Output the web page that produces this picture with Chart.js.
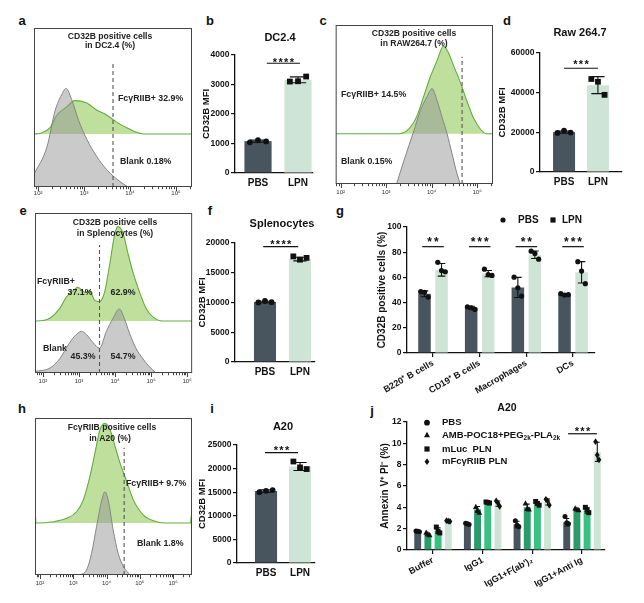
<!DOCTYPE html>
<html><head><meta charset="utf-8">
<script src="https://cdn.jsdelivr.net/npm/chart.js@4.4.1/dist/chart.umd.min.js"></script>
<style>
html,body{margin:0;padding:0;background:#fff;}
body{position:relative;width:644px;height:603px;overflow:hidden;font-family:'Liberation Sans',Arial,sans-serif;}
.pl{position:absolute;font-weight:bold;font-size:13px;color:#111;transform:translate(-50%,-50%);line-height:1;}
canvas{position:absolute;}
</style></head><body>
<div class="pl" style="left:22px;top:20px">a</div>
<div class="pl" style="left:210px;top:20px">b</div>
<div class="pl" style="left:323px;top:20px">c</div>
<div class="pl" style="left:507px;top:20px">d</div>
<div class="pl" style="left:23px;top:210px">e</div>
<div class="pl" style="left:210px;top:210px">f</div>
<div class="pl" style="left:340px;top:210px">g</div>
<div class="pl" style="left:22px;top:408px">h</div>
<div class="pl" style="left:212px;top:408px">i</div>
<div class="pl" style="left:372px;top:410px">j</div>
<script>
// ================= DATA =================
const histTickLabels = ['10²', '10³', '10⁴', '10⁵', '10⁶'];
const histDecades = [2, 3, 4, 5, 6];

// a: DC2.4 histogram (x = log10 intensity, h = fraction of panel height)
const histA_greyX  = [1.91, 2.19, 2.37, 2.51, 2.61, 2.73, 2.88, 3.06, 3.28, 3.49, 3.67, 3.85, 3.96];
const histA_greyH  = [0.08, 0.25, 0.48, 0.58, 0.62, 0.55, 0.42, 0.30, 0.19, 0.11, 0.06, 0.02, 0];
const histA_greenX = [1.91, 2.05, 2.26, 2.41, 2.62, 2.80, 3.06, 3.28, 3.49, 3.71, 3.93, 4.15, 4.29, 5.35];
const histA_greenH = [0, 0.005, 0.04, 0.12, 0.17, 0.21, 0.195, 0.15, 0.12, 0.075, 0.04, 0.01, 0, 0];
const histA_gate = 3.63;

// c: RAW264.7 histogram
const histC_greyX  = [3.23, 3.39, 3.61, 3.75, 3.90, 4.01, 4.12, 4.23, 4.34, 4.45, 4.56, 4.63];
const histC_greyH  = [0, 0.146, 0.335, 0.46, 0.55, 0.60, 0.525, 0.42, 0.316, 0.19, 0.063, 0];
const histC_greenX = [1.89, 3.28, 3.50, 3.68, 3.82, 3.97, 4.12, 4.26, 4.37, 4.48, 4.63, 4.77, 4.92, 5.07, 5.21, 5.35];
const histC_greenH = [0, 0, 0.03, 0.114, 0.23, 0.357, 0.46, 0.55, 0.51, 0.43, 0.325, 0.21, 0.10, 0.03, 0, 0];
const histC_gate = 4.67;

// e: Splenocytes histogram
const histE_greyX  = [1.78, 2.19, 2.47, 2.70, 2.88, 3.07, 3.21, 3.39, 3.57, 3.76, 3.94, 4.12, 4.26, 4.40, 4.58, 4.77, 4.95, 5.14];
const histE_greyH  = [0.01, 0.03, 0.09, 0.175, 0.23, 0.26, 0.24, 0.19, 0.155, 0.26, 0.34, 0.40, 0.34, 0.25, 0.155, 0.09, 0.04, 0];
const histE_greenX = [1.78, 1.83, 2.19, 2.47, 2.65, 2.84, 2.97, 3.16, 3.30, 3.43, 3.57, 3.71, 3.85, 3.99, 4.08, 4.22, 4.35, 4.49, 4.68, 4.86, 5.04, 5.32, 6.14];
const histE_greenH = [0, 0, 0.017, 0.08, 0.15, 0.19, 0.21, 0.18, 0.19, 0.13, 0.12, 0.18, 0.35, 0.54, 0.59, 0.55, 0.43, 0.31, 0.18, 0.08, 0.027, 0, 0];
const histE_gate = 3.57;

// h: A20 histogram
const histH_greyX  = [3.20, 3.40, 3.55, 3.70, 3.86, 3.95, 4.05, 4.20, 4.35, 4.51, 4.71];
const histH_greyH  = [0, 0.032, 0.138, 0.308, 0.478, 0.53, 0.478, 0.287, 0.138, 0.053, 0];
const histH_greenX = [1.85, 1.86, 1.88, 2.40, 2.80, 3.10, 3.30, 3.50, 3.65, 3.80, 3.95, 4.11, 4.26, 4.41, 4.61, 4.81, 5.11, 5.51, 5.81, 6.53, 6.55, 6.57];
const histH_greenH = [0, 0.05, 0, 0.008, 0.03, 0.072, 0.146, 0.295, 0.444, 0.592, 0.635, 0.592, 0.486, 0.38, 0.263, 0.146, 0.051, 0.008, 0, 0, 0.05, 0];
const histH_gate = 4.53;

// two-group MFI bar panels
const mfiCats = ['PBS', 'LPN'];
const b_means = [1080, 3160];   const b_sd = [35, 100];   const b_pts = [[1040, 1110, 1070], [3100, 3110, 3270]];
const b_yTicks = [0, 1000, 2000, 3000, 4000];
const d_means = [20100, 43800]; const d_sd = [500, 4300]; const d_pts = [[19700, 20800, 19900], [46900, 45500, 38900]];
const d_yTicks = [0, 20000, 40000, 60000];
const f_means = [10080, 17300]; const f_sd = [130, 300];  const f_pts = [[10000, 10250, 10050], [17750, 17200, 17500]];
const f_yTicks = [0, 5000, 10000, 15000, 20000];
const i_means = [15250, 20450]; const i_sd = [250, 850];  const i_pts = [[15000, 15300, 15450], [21500, 20250, 19900]];
const i_yTicks = [0, 5000, 10000, 15000, 20000, 25000];

// g: CD32B positive cells (%)
const gCats = ['B220⁺ B cells', 'CD19⁺ B cells', 'Macrophages', 'DCs'];
const gPBS = [47, 36, 52, 46.5];   const gPBS_sd = [2.3, 1.1, 8, 0.6];
const gPBS_pts = [[48.7, 48.2, 44.4], [36.7, 35.9, 34.6], [60.2, 51.8, 45.2], [47.1, 46, 46.3]];
const gLPN = [66, 63, 78, 64];     const gLPN_sd = [5, 2.5, 3, 8.5];
const gLPN_pts = [[72, 65.4, 64.5], [66.5, 62.2, 61.6], [80.8, 79, 74.5], [72.5, 65, 55]];
const g_yTicks = [0, 20, 40, 60, 80, 100];

// j: Annexin V+ PI- (%)
const jCats = ['Buffer', 'IgG1', "IgG1+F(ab')₂", 'IgG1+Anti Ig'];
const jPBS = [1.75, 2.45, 2.4, 2.6];  const jPBS_sd = [0.05, 0.05, 0.3, 0.35];
const jPBS_pts = [[1.78, 1.75, 1.72], [2.5, 2.45, 2.4], [2.74, 2.33, 2.18], [3.15, 2.55, 2.45]];
const jAMB = [1.45, 3.8, 4.0, 3.8];   const jAMB_sd = [0.1, 0.28, 0.3, 0.08];
const jAMB_pts = [[1.62, 1.5, 1.4], [4.05, 3.74, 3.5], [4.36, 3.9, 3.8], [3.9, 3.8, 3.75]];
const jLuc = [1.8, 4.45, 4.35, 3.7];  const jLuc_sd = [0.28, 0.05, 0.18, 0.25];
const jLuc_pts = [[2.15, 1.75, 1.6], [4.5, 4.45, 4.4], [4.55, 4.36, 4.2], [4.0, 3.75, 3.5]];
const jFc = [2.7, 4.35, 4.5, 9.2];    const jFc_sd = [0.04, 0.25, 0.28, 0.9];
const jFc_pts = [[2.75, 2.7, 2.68], [4.6, 4.4, 4.1], [4.75, 4.6, 4.2], [10.15, 8.9, 8.45]];
const j_yTicks = [0, 2, 4, 6, 8, 10, 12];

// ================= DRAWING =================
const FAM = "'Liberation Sans', Arial, Helvetica, sans-serif";
const DARK = '#48555f', LIGHT = '#cde4d6', G2 = '#2b9b6b', G3 = '#3cbf83';
Chart.defaults.font.family = FAM;
Chart.defaults.color = '#111';

function mkCanvas(b) {
  const c = document.createElement('canvas');
  c.style.left = b[0] + 'px'; c.style.top = b[1] + 'px';
  c.style.width = (b[2] - b[0]) + 'px'; c.style.height = (b[3] - b[1]) + 'px';
  c.width = b[2] - b[0]; c.height = b[3] - b[1];
  document.body.appendChild(c);
  return c;
}
function drawMarker(ctx, type, x, y, r) {
  ctx.beginPath();
  if (type === 'square') ctx.rect(x - r, y - r, 2 * r, 2 * r);
  else if (type === 'triangle') { ctx.moveTo(x, y - r * 1.25); ctx.lineTo(x + r * 1.15, y + r * 0.85); ctx.lineTo(x - r * 1.15, y + r * 0.85); ctx.closePath(); }
  else if (type === 'diamond') { ctx.moveTo(x, y - r * 1.35); ctx.lineTo(x + r * 0.95, y); ctx.lineTo(x, y + r * 1.35); ctx.lineTo(x - r * 0.95, y); ctx.closePath(); }
  else ctx.arc(x, y, r, 0, Math.PI * 2);
  ctx.fill();
}
function drawText(ctx, t, ox, oy) {
  ctx.save();
  ctx.fillStyle = t.color || '#111';
  ctx.textBaseline = 'middle';
  const size = t.size || 9, w = t.weight || 'bold';
  if (t.parts) {
    let x = t.x - ox;
    ctx.textAlign = 'left';
    t.parts.forEach(p => {
      const s = p.sub ? size * 0.68 : size;
      ctx.font = w + ' ' + s + 'px ' + FAM;
      ctx.fillText(p.s, x, t.y - oy + (p.sub ? size * 0.32 : 0));
      x += ctx.measureText(p.s).width;
    });
  } else {
    ctx.font = w + ' ' + size + 'px ' + FAM;
    ctx.textAlign = t.align || 'left';
    ctx.fillText(t.s, t.x - ox, t.y - oy);
  }
  ctx.restore();
}
const deco = {
  id: 'deco',
  afterDatasetsDraw(chart, args, o) {
    const ctx = chart.ctx, xs = chart.scales.x, ys = chart.scales.y;
    chart.data.datasets.forEach((ds, di) => {
      if (!ds.pts) return;
      const meta = chart.getDatasetMeta(di);
      meta.data.forEach((bar, i) => {
        const bw = bar.width, m = ds.data[i].y, sd = ds.sd[i];
        const yT = ys.getPixelForValue(m + sd), yB = ys.getPixelForValue(m - sd), cw = bw * o.cap;
        ctx.save();
        ctx.strokeStyle = '#111'; ctx.lineWidth = 1.1;
        ctx.beginPath();
        ctx.moveTo(bar.x, yT); ctx.lineTo(bar.x, yB);
        ctx.moveTo(bar.x - cw, yT); ctx.lineTo(bar.x + cw, yT);
        ctx.moveTo(bar.x - cw, yB); ctx.lineTo(bar.x + cw, yB);
        ctx.stroke();
        ctx.fillStyle = '#111';
        const mk = Array.isArray(ds.marker) ? ds.marker[i] : ds.marker;
        ds.pts[i].forEach((v, k) => drawMarker(ctx, mk, bar.x + o.jit[k] * bw, ys.getPixelForValue(v), o.ms));
        ctx.restore();
      });
    });
    (o.sig || []).forEach(s => {
      const x1 = xs.getPixelForValue(s.x1), x2 = xs.getPixelForValue(s.x2), y = ys.getPixelForValue(s.y);
      ctx.save();
      ctx.strokeStyle = '#111'; ctx.lineWidth = 1.2;
      ctx.beginPath(); ctx.moveTo(x1, y); ctx.lineTo(x2, y); ctx.stroke();
      const size = s.size || 11;
      ctx.font = 'bold ' + size + 'px ' + FAM; ctx.fillStyle = '#111';
      ctx.textAlign = 'center'; ctx.textBaseline = 'alphabetic';
      const cx = (x1 + x2) / 2, sp = s.sp || 5.6, by = y - s.dy + 0.58 * size;
      for (let k = 0; k < s.n; k++) ctx.fillText('*', cx + (k - (s.n - 1) / 2) * sp, by);
      ctx.restore();
    });
  },
  afterDraw(chart, args, o) {
    const ctx = chart.ctx, ca = chart.chartArea;
    if (o.frame) {
      const xs = chart.scales.x;
      ctx.save();
      ctx.strokeStyle = '#444'; ctx.lineWidth = 1;
      ctx.strokeRect(ca.left + 0.5, ca.top + 0.5, ca.right - ca.left - 1, ca.bottom - ca.top - 1);
      ctx.beginPath();
      for (let n = Math.floor(xs.min); n <= Math.floor(xs.max); n++) {
        for (let k = 1; k <= 9; k++) {
          const v = n + Math.log10(k);
          if (v < xs.min || v > xs.max) continue;
          const px = Math.round(xs.getPixelForValue(v)) + 0.5;
          ctx.moveTo(px, ca.bottom); ctx.lineTo(px, ca.bottom + (k === 1 ? 4 : 2.2));
        }
      }
      ctx.stroke();
      ctx.restore();
    }
    (o.texts || []).forEach(t => drawText(ctx, t, o.ox, o.oy));
    (o.marks || []).forEach(m => { ctx.save(); ctx.fillStyle = '#111'; drawMarker(ctx, m.type, m.x - o.ox, m.y - o.oy, m.r); ctx.restore(); });
  }
};

function histChart(o) {
  const [x0, y0, x1, y1] = o.box, [L, T, R, B] = o.plot;
  const cv = mkCanvas(o.box);
  const decs = histDecades.filter(d => d >= o.xmin && d <= o.xmax);
  return new Chart(cv, {
    type: 'line',
    data: { datasets: [
      { data: [{ x: o.gate, y: 0 }, { x: o.gate, y: o.gateTop }], borderColor: '#555', borderWidth: 1.1, borderDash: [4, 3], pointRadius: 0, fill: false },
      { data: o.greyX.map((x, i) => ({ x: x, y: o.greyH[i] })), borderColor: '#858585', borderWidth: 1, backgroundColor: 'rgba(150,150,150,0.5)', fill: 'origin', pointRadius: 0, cubicInterpolationMode: 'monotone' },
      { data: o.greenX.map((x, i) => ({ x: x, y: o.base + o.greenH[i] })), borderColor: '#62ad3c', borderWidth: 1.1, backgroundColor: 'rgba(150,205,95,0.62)', fill: { value: o.base }, pointRadius: 0, cubicInterpolationMode: 'monotone' }
    ]},
    options: {
      responsive: false, animation: false, events: [],
      layout: { padding: { left: L - x0, top: T - y0, right: x1 - R, bottom: 0 } },
      plugins: { legend: { display: false }, tooltip: { enabled: false }, deco: { frame: true, ox: x0, oy: y0, texts: o.texts } },
      scales: {
        x: { type: 'linear', min: o.xmin, max: o.xmax, grid: { display: false, drawTicks: false }, border: { display: false },
             afterBuildTicks: s => { s.ticks = decs.map(v => ({ value: v })); },
             ticks: { autoSkip: false, maxRotation: 0, minRotation: 0, padding: o.labelPad, font: { size: 6 }, color: '#333',
                      callback: v => histTickLabels[histDecades.indexOf(v)] },
             afterFit: s => { s.height = y1 - B; } },
        y: { display: false, min: 0, max: 1 }
      }
    },
    plugins: [deco]
  });
}

function barChart(o) {
  const [x0, y0, x1, y1] = o.box, [L, T, R, B] = o.plot;
  const cv = mkCanvas(o.box);
  return new Chart(cv, {
    type: 'bar',
    data: { datasets: o.series.map(s => ({
      data: s.means.map((m, i) => ({ x: i + 1, y: m })),
      backgroundColor: s.color, borderWidth: 0,
      barPercentage: o.barPct, categoryPercentage: o.catPct,
      pts: s.pts, sd: s.sd, marker: s.marker })) },
    options: {
      responsive: false, animation: false, events: [],
      layout: { padding: { left: 0, top: T - y0, right: x1 - R, bottom: 0 } },
      plugins: { legend: { display: false }, tooltip: { enabled: false },
                 deco: { ox: x0, oy: y0, texts: o.texts, marks: o.marks, sig: o.sig, jit: o.jit, ms: o.ms, cap: o.cap } },
      scales: {
        x: { type: 'linear', min: o.xmin, max: o.xmax, offset: false,
             grid: { display: true, drawOnChartArea: false, drawTicks: !!o.xTicks, tickLength: 4, color: '#111', lineWidth: 1.2, offset: false },
             border: { display: true, color: '#111', width: 1.3 },
             afterBuildTicks: s => { s.ticks = o.cats.map((c, i) => ({ value: i + 1 })); },
             ticks: { autoSkip: false, maxRotation: o.rot, minRotation: o.rot, padding: o.xPad, font: { size: o.xFont, weight: 'bold' }, color: '#111',
                      callback: v => o.cats[Math.round(v) - 1] },
             afterFit: s => { s.height = y1 - B; } },
        y: { min: 0, max: o.ymax,
             afterBuildTicks: s => { s.ticks = o.yTicks.map(v => ({ value: v })); },
             grid: { drawOnChartArea: false, drawTicks: true, tickLength: 4, color: '#111', lineWidth: 1.2 },
             border: { color: '#111', width: 1.3 },
             ticks: { font: { size: 8.5, weight: 'bold' }, color: '#111', padding: 1.5, callback: v => String(v) },
             title: { display: true, text: o.yTitle, font: { size: o.yTitleSize || 9.5, weight: 'bold' }, color: '#111', padding: 0 },
             afterFit: s => { s.width = L - x0; } }
      }
    },
    plugins: [deco]
  });
}

// ---------- histograms ----------
histChart({ box: [30, 20, 196, 200], plot: [34, 28, 192, 187], xmin: 1.91, xmax: 5.35, labelPad: 2.4,
  greyX: histA_greyX, greyH: histA_greyH, greenX: histA_greenX, greenH: histA_greenH, base: 0.333, gate: histA_gate, gateTop: 0.79,
  texts: [
    { s: 'CD32B positive cells', x: 110, y: 37, size: 8.6, align: 'center', color: '#222' },
    { s: 'in DC2.4 (%)', x: 110, y: 46, size: 8.6, align: 'center', color: '#222' },
    { s: 'FcγRIIB+ 32.9%', x: 118, y: 99, size: 8.8, color: '#222' },
    { s: 'Blank 0.18%', x: 120, y: 162, size: 8.8, color: '#222' }
  ] });
histChart({ box: [331, 17, 497, 196], plot: [335, 25, 493, 184], xmin: 1.89, xmax: 5.35, labelPad: 5.2,
  greyX: histC_greyX, greyH: histC_greyH, greenX: histC_greenX, greenH: histC_greenH, base: 0.316, gate: histC_gate, gateTop: 0.80,
  texts: [
    { s: 'CD32B positive cells', x: 414, y: 34, size: 8.6, align: 'center', color: '#222' },
    { s: 'in RAW264.7 (%)', x: 414, y: 44, size: 8.6, align: 'center', color: '#222' },
    { s: 'FcγRIIB+ 14.5%', x: 341, y: 95, size: 8.8, color: '#222' },
    { s: 'Blank 0.15%', x: 341, y: 162, size: 8.8, color: '#222' }
  ] });
histChart({ box: [31, 205, 197, 388], plot: [35, 213, 193, 373], xmin: 1.78, xmax: 6.14, labelPad: 5.2,
  greyX: histE_greyX, greyH: histE_greyH, greenX: histE_greenX, greenH: histE_greenH, base: 0.325, gate: histE_gate, gateTop: 0.80,
  texts: [
    { s: 'CD32B positive cells', x: 115, y: 223, size: 8.6, align: 'center', color: '#222' },
    { s: 'in Splenocytes (%)', x: 115, y: 234, size: 8.6, align: 'center', color: '#222' },
    { s: 'FcγRIIB+', x: 37, y: 282, size: 8.8, color: '#222' },
    { s: '37.1%', x: 80, y: 293, size: 8.8, align: 'center', color: '#222' },
    { s: '62.9%', x: 123, y: 293, size: 8.8, align: 'center', color: '#222' },
    { s: 'Blank', x: 43, y: 349, size: 8.8, color: '#222' },
    { s: '45.3%', x: 83, y: 357, size: 8.8, align: 'center', color: '#222' },
    { s: '54.7%', x: 123, y: 357, size: 8.8, align: 'center', color: '#222' }
  ] });
histChart({ box: [31, 404, 196, 590], plot: [35, 418, 192, 575], xmin: 1.85, xmax: 6.57, labelPad: 4.4,
  greyX: histH_greyX, greyH: histH_greyH, greenX: histH_greenX, greenH: histH_greenH, base: 0.331, gate: histH_gate, gateTop: 0.81,
  texts: [
    { s: 'FcγRIIB positive cells', x: 112, y: 428, size: 8.6, align: 'center', color: '#222' },
    { s: 'in A20 (%)', x: 110, y: 439, size: 8.6, align: 'center', color: '#222' },
    { s: 'FcγRIIB+ 9.7%', x: 126, y: 484, size: 8.8, color: '#222' },
    { s: 'Blank 1.8%', x: 137, y: 544, size: 8.8, color: '#222' }
  ] });

// ---------- MFI bar charts ----------
const twoMarkers = ['circle', 'square'];
barChart({ box: [201, 28, 318, 196], plot: [235, 55, 313, 173], xmin: 0.425, xmax: 2.375, barPct: 0.68, catPct: 1,
  cats: mfiCats, ymax: 4000, yTicks: b_yTicks, yTitle: 'CD32B MFI', rot: 0, xPad: 4, xFont: 10, jit: [-0.3, 0, 0.3], ms: 2.9, cap: 0.3,
  series: [{ means: b_means, sd: b_sd, pts: b_pts, color: [DARK, LIGHT], marker: twoMarkers }],
  sig: [{ x1: 1.22, x2: 2.05, y: 3720, n: 4, dy: 4 }],
  texts: [{ s: 'DC2.4', x: 280, y: 38, size: 11, align: 'center' }] });
barChart({ box: [497, 24, 628, 196], plot: [540, 53, 622, 172], xmin: 0.29, xmax: 2.71, barPct: 0.65, catPct: 1,
  cats: mfiCats, ymax: 60000, yTicks: d_yTicks, yTitle: 'CD32B MFI', rot: 0, xPad: 4, xFont: 10, jit: [-0.3, 0, 0.3], ms: 2.9, cap: 0.3,
  series: [{ means: d_means, sd: d_sd, pts: d_pts, color: [DARK, LIGHT], marker: twoMarkers }],
  sig: [{ x1: 1.0, x2: 2.0, y: 52300, n: 3, dy: 6.5 }],
  texts: [{ s: 'Raw 264.7', x: 580, y: 33, size: 11, align: 'center' }] });
barChart({ box: [197, 214, 320, 386], plot: [235, 243, 315, 362], xmin: 0.143, xmax: 2.43, barPct: 0.63, catPct: 1,
  cats: mfiCats, ymax: 20000, yTicks: f_yTicks, yTitle: 'CD32B MFI', rot: 0, xPad: 4, xFont: 10, jit: [-0.3, 0, 0.3], ms: 2.9, cap: 0.3,
  series: [{ means: f_means, sd: f_sd, pts: f_pts, color: [DARK, LIGHT], marker: twoMarkers }],
  sig: [{ x1: 0.95, x2: 1.95, y: 19380, n: 4, dy: 5 }],
  texts: [{ s: 'Splenocytes', x: 282, y: 224, size: 11, align: 'center' }] });
barChart({ box: [197, 414, 320, 590], plot: [237, 445, 315, 563], xmin: 0.147, xmax: 2.44, barPct: 0.65, catPct: 1,
  cats: mfiCats, ymax: 25000, yTicks: i_yTicks, yTitle: 'CD32B MFI', rot: 0, xPad: 4, xFont: 10, jit: [-0.3, 0, 0.3], ms: 2.9, cap: 0.3,
  series: [{ means: i_means, sd: i_sd, pts: i_pts, color: [DARK, LIGHT], marker: twoMarkers }],
  sig: [{ x1: 0.97, x2: 1.94, y: 23370, n: 3, dy: 5.3 }],
  texts: [{ s: 'A20', x: 283, y: 427, size: 11, align: 'center' }] });

// ---------- g ----------
barChart({ box: [376, 205, 600, 400], plot: [407, 227, 595, 353], xmin: 0.443, xmax: 4.47, barPct: 0.735, catPct: 0.73,
  cats: gCats, ymax: 100, yTicks: g_yTicks, yTitle: 'CD32B positive cells (%)', yTitleSize: 10, rot: 30, xPad: 1, xFont: 9, xTicks: true,
  jit: [-0.3, 0, 0.3], ms: 2.6, cap: 0.3,
  series: [
    { means: gPBS, sd: gPBS_sd, pts: gPBS_pts, color: DARK, marker: 'circle' },
    { means: gLPN, sd: gLPN_sd, pts: gLPN_pts, color: LIGHT, marker: 'circle' }
  ],
  sig: [1, 2, 3, 4].map((c, k) => ({ x1: c - 0.23, x2: c + 0.23, y: 84.4, n: [2, 3, 2, 3][k], dy: 7.5, size: 12, sp: 6.6 })),
  marks: [{ type: 'circle', x: 503, y: 220, r: 2.6 }, { type: 'square', x: 553, y: 220, r: 2.6 }],
  texts: [{ s: 'PBS', x: 518, y: 220, size: 10 }, { s: 'LPN', x: 562, y: 220, size: 10 }] });

// ---------- j ----------
barChart({ box: [379, 398, 612, 603], plot: [407, 422, 605, 550], xmin: 0.477, xmax: 4.463, barPct: 0.68, catPct: 0.82,
  cats: jCats, ymax: 12, yTicks: j_yTicks, yTitle: 'Annexin V⁺ PI⁻ (%)', yTitleSize: 10, rot: 28, xPad: 1, xFont: 9, xTicks: true,
  jit: [-0.25, 0, 0.25], ms: 2.5, cap: 0.35,
  series: [
    { means: jPBS, sd: jPBS_sd, pts: jPBS_pts, color: DARK, marker: 'circle' },
    { means: jAMB, sd: jAMB_sd, pts: jAMB_pts, color: G2, marker: 'triangle' },
    { means: jLuc, sd: jLuc_sd, pts: jLuc_pts, color: G3, marker: 'square' },
    { means: jFc, sd: jFc_sd, pts: jFc_pts, color: LIGHT, marker: 'diamond' }
  ],
  sig: [{ x1: 3.72, x2: 4.3, y: 10.9, n: 3, dy: 5 }],
  marks: [
    { type: 'circle', x: 427, y: 422.7, r: 2.9 },
    { type: 'triangle', x: 427, y: 435, r: 2.6 },
    { type: 'square', x: 427, y: 449, r: 2.6 },
    { type: 'diamond', x: 427, y: 461.7, r: 2.5 }
  ],
  texts: [
    { s: 'A20', x: 507, y: 408, size: 10.5, align: 'center' },
    { s: 'PBS', x: 442, y: 422.7, size: 9.5 },
    { x: 442, y: 435, size: 9.5, parts: [{ s: 'AMB-POC18+PEG' }, { s: '2k', sub: true }, { s: '-PLA' }, { s: '2k', sub: true }] },
    { s: 'mLuc  PLN', x: 442, y: 449, size: 9.5 },
    { s: 'mFcγRIIB PLN', x: 442, y: 461.7, size: 9.5 }
  ] });
</script>
</body></html>
